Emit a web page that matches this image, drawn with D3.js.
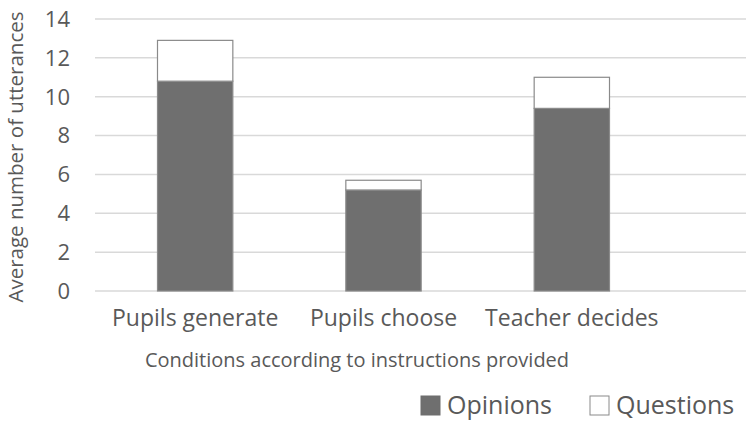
<!DOCTYPE html>
<html>
<head>
<meta charset="utf-8">
<script src="https://cdn.jsdelivr.net/npm/d3@7"></script>
<style>
  body { margin: 0; background: #fff; }
  text { font-family: "Open Sans", sans-serif; fill: #595959; }
</style>
</head>
<body>
<div id="content"></div>
<script>
/* Data */
const categories = ["Pupils generate", "Pupils choose", "Teacher decides"];
const opinions = [10.8, 5.2, 9.4];
const questions = [2.1, 0.5, 1.6];
const seriesNames = ["Opinions", "Questions"];
const yTicks = [0, 2, 4, 6, 8, 10, 12, 14];

const WIDTH = 746;
const HEIGHT = 422;
const PLOT = {left: 95, right: 746, top: 19, bottom: 291};

const svg = d3.select("#content").append("svg")
    .attr("width", WIDTH)
    .attr("height", HEIGHT);

const y = d3.scaleLinear().domain([0, 14]).range([PLOT.bottom, PLOT.top]);
const x = d3.scaleBand().domain(categories).range([101, 666])
    .paddingInner(0.6).paddingOuter(0.3);

// gridlines
svg.append("g").selectAll("line")
    .data(yTicks)
    .enter().append("line")
    .attr("x1", PLOT.left).attr("x2", PLOT.right)
    .attr("y1", d => y(d)).attr("y2", d => y(d))
    .attr("stroke", "#d9d9d9")
    .attr("stroke-width", 1.5);

// y tick labels
svg.append("g").selectAll("text")
    .data(yTicks)
    .enter().append("text")
    .attr("x", 70)
    .attr("y", d => y(d))
    .attr("dy", "0.36em")
    .attr("text-anchor", "end")
    .style("font-size", "22px")
    .text(d => d);

// stacked bars
const rows = categories.map((c, i) => ({cat: c, Opinions: opinions[i], Questions: questions[i]}));
const stacked = d3.stack().keys(seriesNames)(rows);
const fills = {Opinions: "#6f6f6f", Questions: "#ffffff"};

svg.append("g").selectAll("g")
    .data(stacked)
    .enter().append("g")
    .attr("fill", d => fills[d.key])
    .selectAll("rect")
    .data(d => d)
    .enter().append("rect")
    .attr("x", d => x(d.data.cat))
    .attr("y", d => y(d[1]))
    .attr("width", x.bandwidth())
    .attr("height", d => y(d[0]) - y(d[1]))
    .attr("stroke", "#8a8a8a")
    .attr("stroke-width", 1.2);

// category labels
svg.append("g").selectAll("text")
    .data(categories)
    .enter().append("text")
    .attr("x", d => x(d) + x.bandwidth() / 2)
    .attr("y", 326)
    .attr("text-anchor", "middle")
    .style("font-size", "23px")
    .text(d => d);

// x axis title
svg.append("text")
    .attr("x", 357)
    .attr("y", 367)
    .attr("text-anchor", "middle")
    .style("font-size", "20px")
    .text("Conditions according to instructions provided");

// y axis title
svg.append("text")
    .attr("transform", "translate(23," + ((PLOT.top + PLOT.bottom) / 2 + 2) + ") rotate(-90)")
    .attr("text-anchor", "middle")
    .style("font-size", "20.5px")
    .text("Average number of utterances");

// legend
const legendX = [421, 590];
const legend = svg.append("g").selectAll("g")
    .data(seriesNames)
    .enter().append("g")
    .attr("transform", (d, i) => "translate(" + legendX[i] + ",396)");

legend.append("rect")
    .attr("width", 19).attr("height", 19)
    .attr("fill", d => fills[d])
    .attr("stroke", d => d == "Opinions" ? "#6f6f6f" : "#8a8a8a")
    .attr("stroke-width", 1);

legend.append("text")
    .attr("x", 26)
    .attr("y", 18)
    .style("font-size", "25px")
    .text(d => d);
</script>
</body>
</html>
